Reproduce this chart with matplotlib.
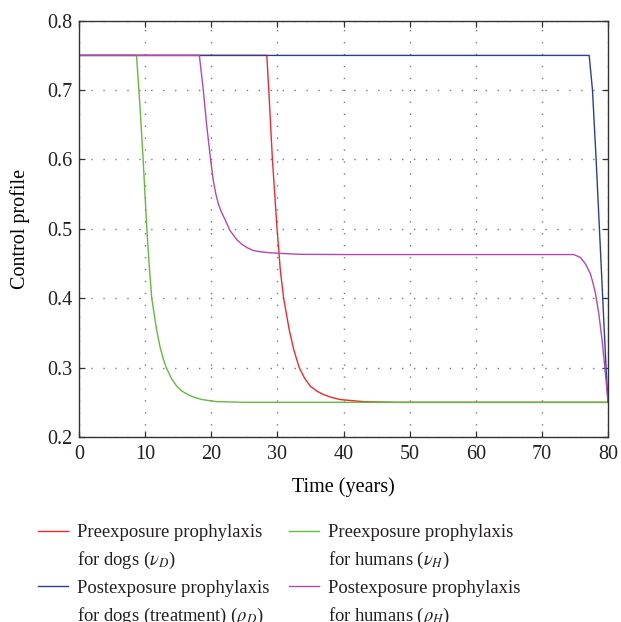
import matplotlib
matplotlib.use("Agg")
import matplotlib.pyplot as plt
from matplotlib.lines import Line2D

plt.rcParams['font.family'] = ['Liberation Serif', 'DejaVu Serif']
plt.rcParams['mathtext.fontset'] = 'stix'
plt.rcParams['font.size'] = 14.5
plt.rcParams['text.color'] = '#231f20'

# values
t_red = [0, 28.4, 28.7, 29.25, 29.95, 30.45, 30.95, 31.8, 32.5, 33.3, 34.1, 35.0, 36.0, 37.0, 38.2,
         39.5, 43.0, 48.0, 80]
v_red = [0.75, 0.75, 0.70, 0.60, 0.50, 0.44, 0.40, 0.354, 0.325, 0.30, 0.285, 0.273, 0.266, 0.261, 0.257,
         0.254, 0.251, 0.25, 0.25]

t_green = [0, 8.7, 9.2, 9.7, 10.2, 10.6, 11.0, 11.75, 12.25, 12.7, 13.2, 14.0, 14.8, 15.6, 16.5, 17.5,
           18.6, 20.8, 25.0, 80]
v_green = [0.75, 0.75, 0.68, 0.60, 0.51, 0.45, 0.40, 0.354, 0.33, 0.314, 0.30, 0.284, 0.273, 0.266, 0.261, 0.257,
           0.254, 0.251, 0.25, 0.25]

t_blue = [0, 77.15, 77.65, 78.2, 78.7, 79.2, 79.7, 80]
v_blue = [0.75, 0.75, 0.70, 0.60, 0.50, 0.40, 0.30, 0.25]

t_mag = [0, 18.2, 18.8, 19.3, 19.9, 20.3, 20.7, 21.1, 21.6, 22.1, 22.8, 23.9, 24.6, 25.4, 26.3, 27.4,
         29.0, 30.4, 33.4, 40.0, 72.8, 74.8, 75.8, 76.55, 77.3, 77.7, 78.1, 78.6, 79.1, 79.6, 80]
v_mag = [0.75, 0.75, 0.70, 0.65, 0.60, 0.57, 0.55, 0.535, 0.523, 0.513, 0.498, 0.484, 0.478, 0.473, 0.469, 0.467,
         0.4655, 0.4647, 0.4633, 0.463, 0.463, 0.463, 0.459, 0.450, 0.436, 0.423, 0.407, 0.378, 0.340, 0.292, 0.25]

labels_left = ["Preexposure prophylaxis", r"for dogs ($\nu_D$)",
               "Postexposure prophylaxis", r"for dogs (treatment) ($\rho_D$)"]
labels_right = ["Preexposure prophylaxis", r"for humans ($\nu_H$)",
                "Postexposure prophylaxis", r"for humans ($\rho_H$)"]

fig = plt.figure(figsize=(6.21, 6.22), dpi=100)
ax = fig.add_axes([0.1272, 0.2974, 0.8519, 0.6693])

lw = 1.0
l_red, = ax.plot(t_red, v_red, color='#f2282c', lw=lw)
l_green, = ax.plot(t_green, v_green, color='#62bb3c', lw=lw)
l_blue, = ax.plot(t_blue, v_blue, color='#2b3f99', lw=lw)
l_mag, = ax.plot(t_mag, v_mag, color='#b348ae', lw=lw)

ax.set_xlim(0, 80)
ax.set_ylim(0.2, 0.8)
ax.set_xticks(range(0, 81, 10))
ax.set_yticks([0.2, 0.3, 0.4, 0.5, 0.6, 0.7, 0.8])
ax.set_yticklabels(['0.2', '0.3', '0.4', '0.5', '0.6', '0.7', '0.8'])
ax.tick_params(direction='in', top=True, right=True, length=4, width=0.9,
               color='#333333', labelcolor='#231f20', labelsize=14.5)
ax.tick_params(axis='x', pad=6)
ax.tick_params(axis='y', pad=5)
ax.grid(True, color='#7a7a7a', lw=1.0, linestyle=(0, (1, 7.6)))
for s in ax.spines.values():
    s.set_color('#333333')
    s.set_linewidth(1.0)

ax.set_xlabel('Time (years)', labelpad=9)
ax.set_ylabel('Control profile', labelpad=12)

blank = Line2D([], [], color='none')
leg_kw = dict(loc='upper left', frameon=False, handlelength=1.6, handletextpad=0.5,
              labelspacing=0.47, borderpad=0, borderaxespad=0, fontsize=13.4)
fig.legend([l_red, blank, l_blue, blank], labels_left,
           bbox_to_anchor=(38 / 621, 1 - 524 / 622), **leg_kw)
fig.legend([l_green, blank, l_mag, blank], labels_right,
           bbox_to_anchor=(289 / 621, 1 - 524 / 622), **leg_kw)

fig.savefig('out.png', dpi=100)
